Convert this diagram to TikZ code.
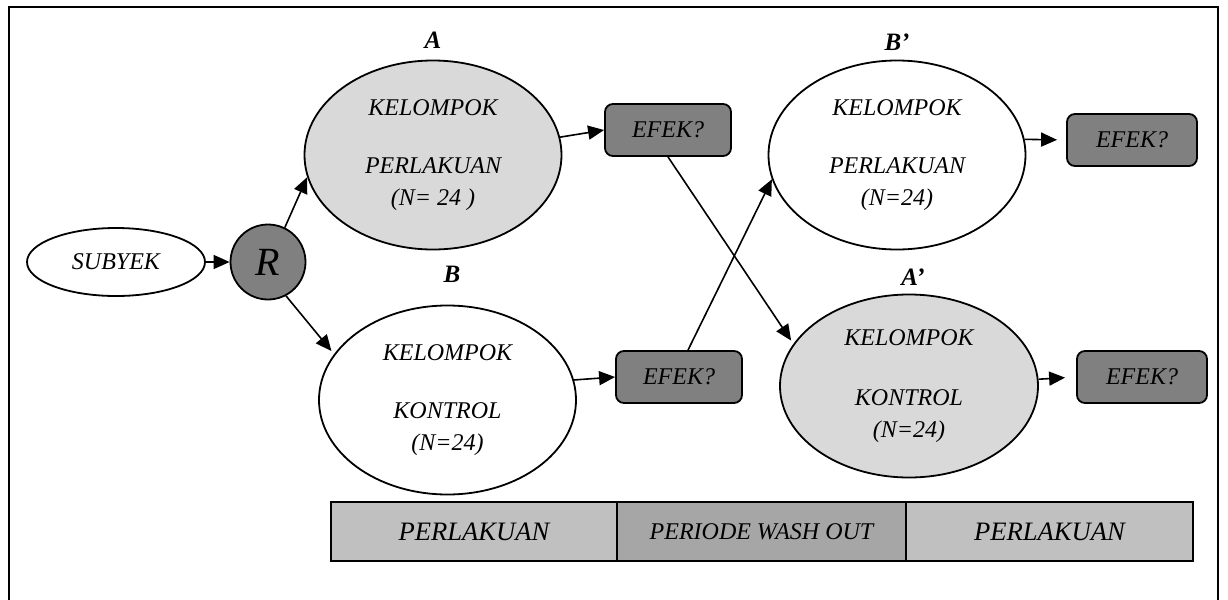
\documentclass[tikz,border=0pt]{standalone}
\usepackage{fontspec}
\setmainfont{Liberation Serif}
\usetikzlibrary{shapes.geometric,arrows.meta}
\definecolor{lgray}{HTML}{D9D9D9}
\definecolor{dgray}{HTML}{808080}
\definecolor{bargray}{HTML}{C0C0C0}
\definecolor{barmid}{HTML}{A6A6A6}
\begin{document}
\begin{tikzpicture}[x=0.5pt,y=-0.5pt,
  arr/.style={line width=0.8pt,-{Triangle[length=8pt,width=7pt]}},
  grp/.style={ellipse,draw,line width=0.9pt,inner sep=0pt,align=center,
    font=\itshape\fontsize{12}{16}\selectfont,minimum width=128.5pt,minimum height=94.5pt},
  efek/.style={rectangle,draw,rounded corners=4pt,fill=dgray,line width=0.9pt,
    minimum width=63pt,minimum height=26pt,font=\itshape\fontsize{12}{14}\selectfont},
  lbl/.style={font=\bfseries\itshape\fontsize{12.5}{14}\selectfont,inner sep=0pt},
  barseg/.style={rectangle,draw,line width=1pt,minimum height=29.5pt,inner sep=0pt}]
\useasboundingbox (0,0) rectangle (1228,600);
\fill[white] (0,0) rectangle (1228,600);
\draw[line width=1pt] (9,600) -- (9,7) -- (1218,7) -- (1218,600);

\node[ellipse,draw,line width=0.9pt,minimum width=89pt,minimum height=34pt,inner sep=0pt,
  font=\itshape\fontsize{12}{14}\selectfont] (subyek) at (116,262) {SUBYEK};
\node[circle,draw,fill=dgray,line width=0.9pt,minimum size=37.5pt,inner sep=0pt,
  font=\itshape\fontsize{20}{22}\selectfont] (R) at (268,262) {R};

\node[grp,fill=lgray] (A) at (433,155) {KELOMPOK\\[13pt]PERLAKUAN\\(N= 24 )};
\node[grp,fill=white] (B) at (447.5,400) {KELOMPOK\\[13pt]KONTROL\\(N=24)};
\node[grp,fill=white] (Bp) at (897,155) {KELOMPOK\\[13pt]PERLAKUAN\\(N=24)};
\node[grp,fill=lgray,minimum width=129pt,minimum height=91.5pt] (Ap) at (909,386) {KELOMPOK\\[14pt]KONTROL\\(N=24)};

\node[lbl] (lA) at (433,40) {A};
\node[lbl] (lB) at (452,274) {B};
\node[lbl] (lBp) at (897,42) {B’};
\node[lbl] (lAp) at (913,277) {A’};

\node[efek] (E1) at (668,130) {EFEK?};
\node[efek] (E2) at (679,377) {EFEK?};
\node[efek,minimum width=65pt] (E3) at (1132,140) {EFEK?};
\node[efek,minimum width=65pt] (E4) at (1142,377) {EFEK?};

\draw[arr] (subyek) -- (R);
\draw[arr] (R.64) -- (A.190);
\draw[arr,shorten >=2pt] (R.-62) -- (B.158);
\draw[arr] (A.8) -- (E1.west);
\draw[arr] (B.9) -- (E2.west);
\draw[arr,shorten >=4.5pt] (Bp.7) -- (E3.west);
\draw[arr,shorten >=5.5pt] (Ap.3) -- (E4.west);
\draw[arr,shorten >=2pt] (E1.south) -- (Ap.160);
\draw[arr] ([xshift=4.5pt]E2.north) -- (Bp.191);

\node[barseg,fill=bargray,minimum width=143pt,font=\itshape\fontsize{13.3}{15}\selectfont] (s1) at (474,531.5) {PERLAKUAN};
\node[barseg,fill=barmid,minimum width=144.5pt,font=\itshape\fontsize{12}{14}\selectfont] (s2) at (761.5,531.5) {PERIODE WASH OUT};
\node[barseg,fill=bargray,minimum width=143.5pt,font=\itshape\fontsize{13.3}{15}\selectfont] (s3) at (1049.5,531.5) {PERLAKUAN};
\end{tikzpicture}
\end{document}
